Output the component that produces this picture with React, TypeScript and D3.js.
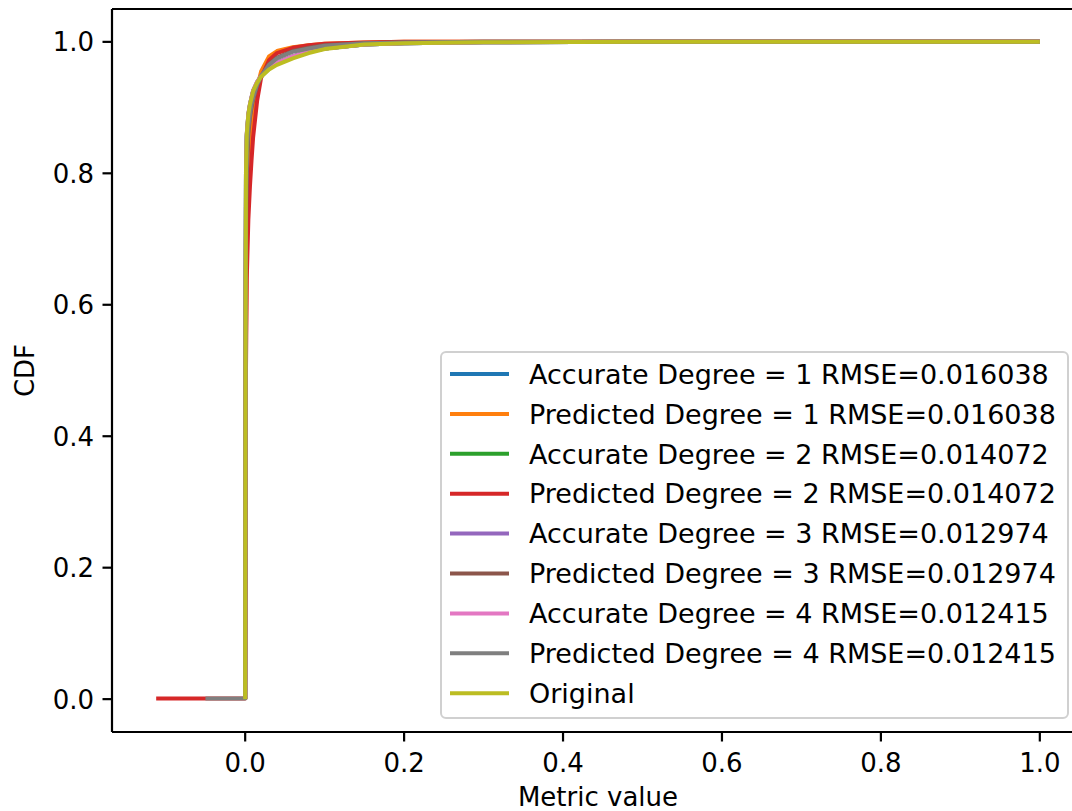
import React from "react";
import * as d3 from "d3";

// metric values where the CDF is sampled (x >= 0 part)
const metricGrid = [0, 0.0005, 0.001, 0.002, 0.004, 0.006, 0.008, 0.01, 0.015, 0.02, 0.03, 0.04, 0.06, 0.08, 0.1, 0.15, 0.2, 0.3, 0.5, 1.0];

// negative tail start for each series (null = starts at 0)
const tailStart = [null, null, null, -0.112, null, null, null, -0.05, null];

const labels = [
  "Accurate Degree = 1 RMSE=0.016038",
  "Predicted Degree = 1 RMSE=0.016038",
  "Accurate Degree = 2 RMSE=0.014072",
  "Predicted Degree = 2 RMSE=0.014072",
  "Accurate Degree = 3 RMSE=0.012974",
  "Predicted Degree = 3 RMSE=0.012974",
  "Accurate Degree = 4 RMSE=0.012415",
  "Predicted Degree = 4 RMSE=0.012415",
  "Original",
];

const colors = ["#1f77b4", "#ff7f0e", "#2ca02c", "#d62728", "#9467bd", "#8c564b", "#e377c2", "#7f7f7f", "#bcbd22"];

const accurate1 = [0, 0.58, 0.79, 0.855, 0.888, 0.903, 0.914, 0.924, 0.937, 0.947, 0.959, 0.967, 0.977, 0.985, 0.99, 0.996, 0.998, 0.9995, 1, 1];
const predicted1 = [0, 0.35, 0.55, 0.7, 0.8, 0.85, 0.875, 0.895, 0.93, 0.955, 0.978, 0.986, 0.992, 0.995, 0.997, 0.999, 1, 1, 1, 1];
const accurate2 = [0, 0.59, 0.8, 0.858, 0.889, 0.904, 0.915, 0.925, 0.938, 0.948, 0.96, 0.968, 0.978, 0.985, 0.99, 0.996, 0.998, 0.9995, 1, 1];
const predicted2 = [0.001, 0.3, 0.5, 0.64, 0.73, 0.78, 0.82, 0.855, 0.91, 0.945, 0.972, 0.983, 0.991, 0.995, 0.997, 0.999, 1, 1, 1, 1];
const accurate3 = [0, 0.6, 0.8, 0.86, 0.89, 0.905, 0.916, 0.926, 0.939, 0.948, 0.96, 0.968, 0.978, 0.985, 0.99, 0.996, 0.998, 0.9995, 1, 1];
const predicted3 = [0, 0.5, 0.7, 0.8, 0.86, 0.885, 0.9, 0.912, 0.933, 0.948, 0.966, 0.976, 0.986, 0.991, 0.995, 0.998, 0.999, 1, 1, 1];
const accurate4 = [0, 0.6, 0.8, 0.86, 0.89, 0.905, 0.916, 0.926, 0.939, 0.948, 0.96, 0.968, 0.978, 0.985, 0.99, 0.996, 0.998, 0.9995, 1, 1];
const predicted4 = [0.001, 0.55, 0.75, 0.83, 0.87, 0.89, 0.905, 0.915, 0.935, 0.948, 0.965, 0.975, 0.985, 0.99, 0.994, 0.998, 0.999, 1, 1, 1];
const original = [0, 0.6, 0.8, 0.86, 0.89, 0.905, 0.915, 0.925, 0.938, 0.947, 0.958, 0.965, 0.975, 0.983, 0.989, 0.996, 0.998, 0.9995, 1, 1];

const cdfValues = [accurate1, predicted1, accurate2, predicted2, accurate3, predicted3, accurate4, predicted4, original];

const xTicks = [0, 0.2, 0.4, 0.6, 0.8, 1.0];
const yTicks = [0, 0.2, 0.4, 0.6, 0.8, 1.0];

const width = 1072;
const height = 811;
const margin = { top: 9, right: -12, bottom: 79, left: 112 };
const FONT = "'DejaVu Sans', sans-serif";

export default function App() {
  const series = cdfValues.map((vals, i) => {
    const pts: [number, number][] = [];
    if (tailStart[i] !== null) pts.push([tailStart[i] as number, vals[0]]);
    metricGrid.forEach((m, j) => pts.push([m, vals[j]]));
    return { label: labels[i], color: colors[i], pts };
  });

  const allX = series.flatMap((s) => s.pts.map((p) => p[0]));
  const [xmin, xmax] = d3.extent(allX) as [number, number];
  const xpad = (xmax - xmin) * 0.05;
  const x = d3
    .scaleLinear()
    .domain([xmin - xpad, xmax + xpad])
    .range([margin.left, width - margin.right]);
  const y = d3
    .scaleLinear()
    .domain([-0.05, 1.05])
    .range([height - margin.bottom, margin.top]);

  const line = d3
    .line<[number, number]>()
    .x((d) => x(d[0]))
    .y((d) => y(d[1]));

  const x0 = margin.left;
  const x1 = width - margin.right;
  const yb = height - margin.bottom;
  const yt = margin.top;

  // legend
  const legX = 441;
  const legY = 352;
  const legW = 627;
  const rowH = 39.9;
  const legH = 366;

  return (
    <svg
      width={width}
      height={height}
      style={{ position: "absolute", left: 0, top: 0, background: "#fff" }}
      fontFamily={FONT}
    >
      <rect x={0} y={0} width={width} height={height} fill="#fff" />
      {/* lines */}
      <g fill="none" strokeWidth={4} strokeLinejoin="round" strokeLinecap="butt">
        {series.map((s, i) => (
          <path key={i} d={line(s.pts) || ""} stroke={s.color} />
        ))}
      </g>

      {/* spines */}
      <g stroke="#000" strokeWidth={2.2} fill="none">
        <line x1={x0} x2={x0} y1={yt} y2={yb} />
        <line x1={x0} x2={x1} y1={yb} y2={yb} />
        <line x1={x0} x2={x1} y1={yt} y2={yt} />
        <line x1={x1} x2={x1} y1={yt} y2={yb} />
      </g>

      {/* x ticks */}
      <g>
        {xTicks.map((t) => (
          <g key={t} transform={`translate(${x(t)},${yb})`}>
            <line y1={0} y2={9.5} stroke="#000" strokeWidth={2.2} />
            <text y={40} textAnchor="middle" fontSize={26} fill="#000">
              {d3.format(".1f")(t)}
            </text>
          </g>
        ))}
      </g>

      {/* y ticks */}
      <g>
        {yTicks.map((t) => (
          <g key={t} transform={`translate(${x0},${y(t)})`}>
            <line x1={0} x2={-9.5} stroke="#000" strokeWidth={2.2} />
            <text x={-18} dy="0.36em" textAnchor="end" fontSize={26} fill="#000">
              {d3.format(".1f")(t)}
            </text>
          </g>
        ))}
      </g>

      {/* axis labels */}
      <text x={(x0 + x1) / 2} y={806} textAnchor="middle" fontSize={26} fill="#000">
        Metric value
      </text>
      <text
        transform={`translate(34,${(yt + yb) / 2}) rotate(-90)`}
        textAnchor="middle"
        fontSize={26}
        fill="#000"
      >
        CDF
      </text>

      {/* legend */}
      <g>
        <rect
          x={legX}
          y={legY}
          width={legW}
          height={legH}
          rx={5}
          fill="#fff"
          fillOpacity={0.8}
          stroke="#d0d0d0"
          strokeWidth={2}
        />
        {series.map((s, i) => (
          <g key={i} transform={`translate(${legX},${legY + 22 + i * rowH})`}>
            <line x1={9} x2={68} y1={0} y2={0} stroke={s.color} strokeWidth={4} />
            <text x={88} dy="0.36em" fontSize={27} fill="#000">
              {s.label}
            </text>
          </g>
        ))}
      </g>
    </svg>
  );
}
